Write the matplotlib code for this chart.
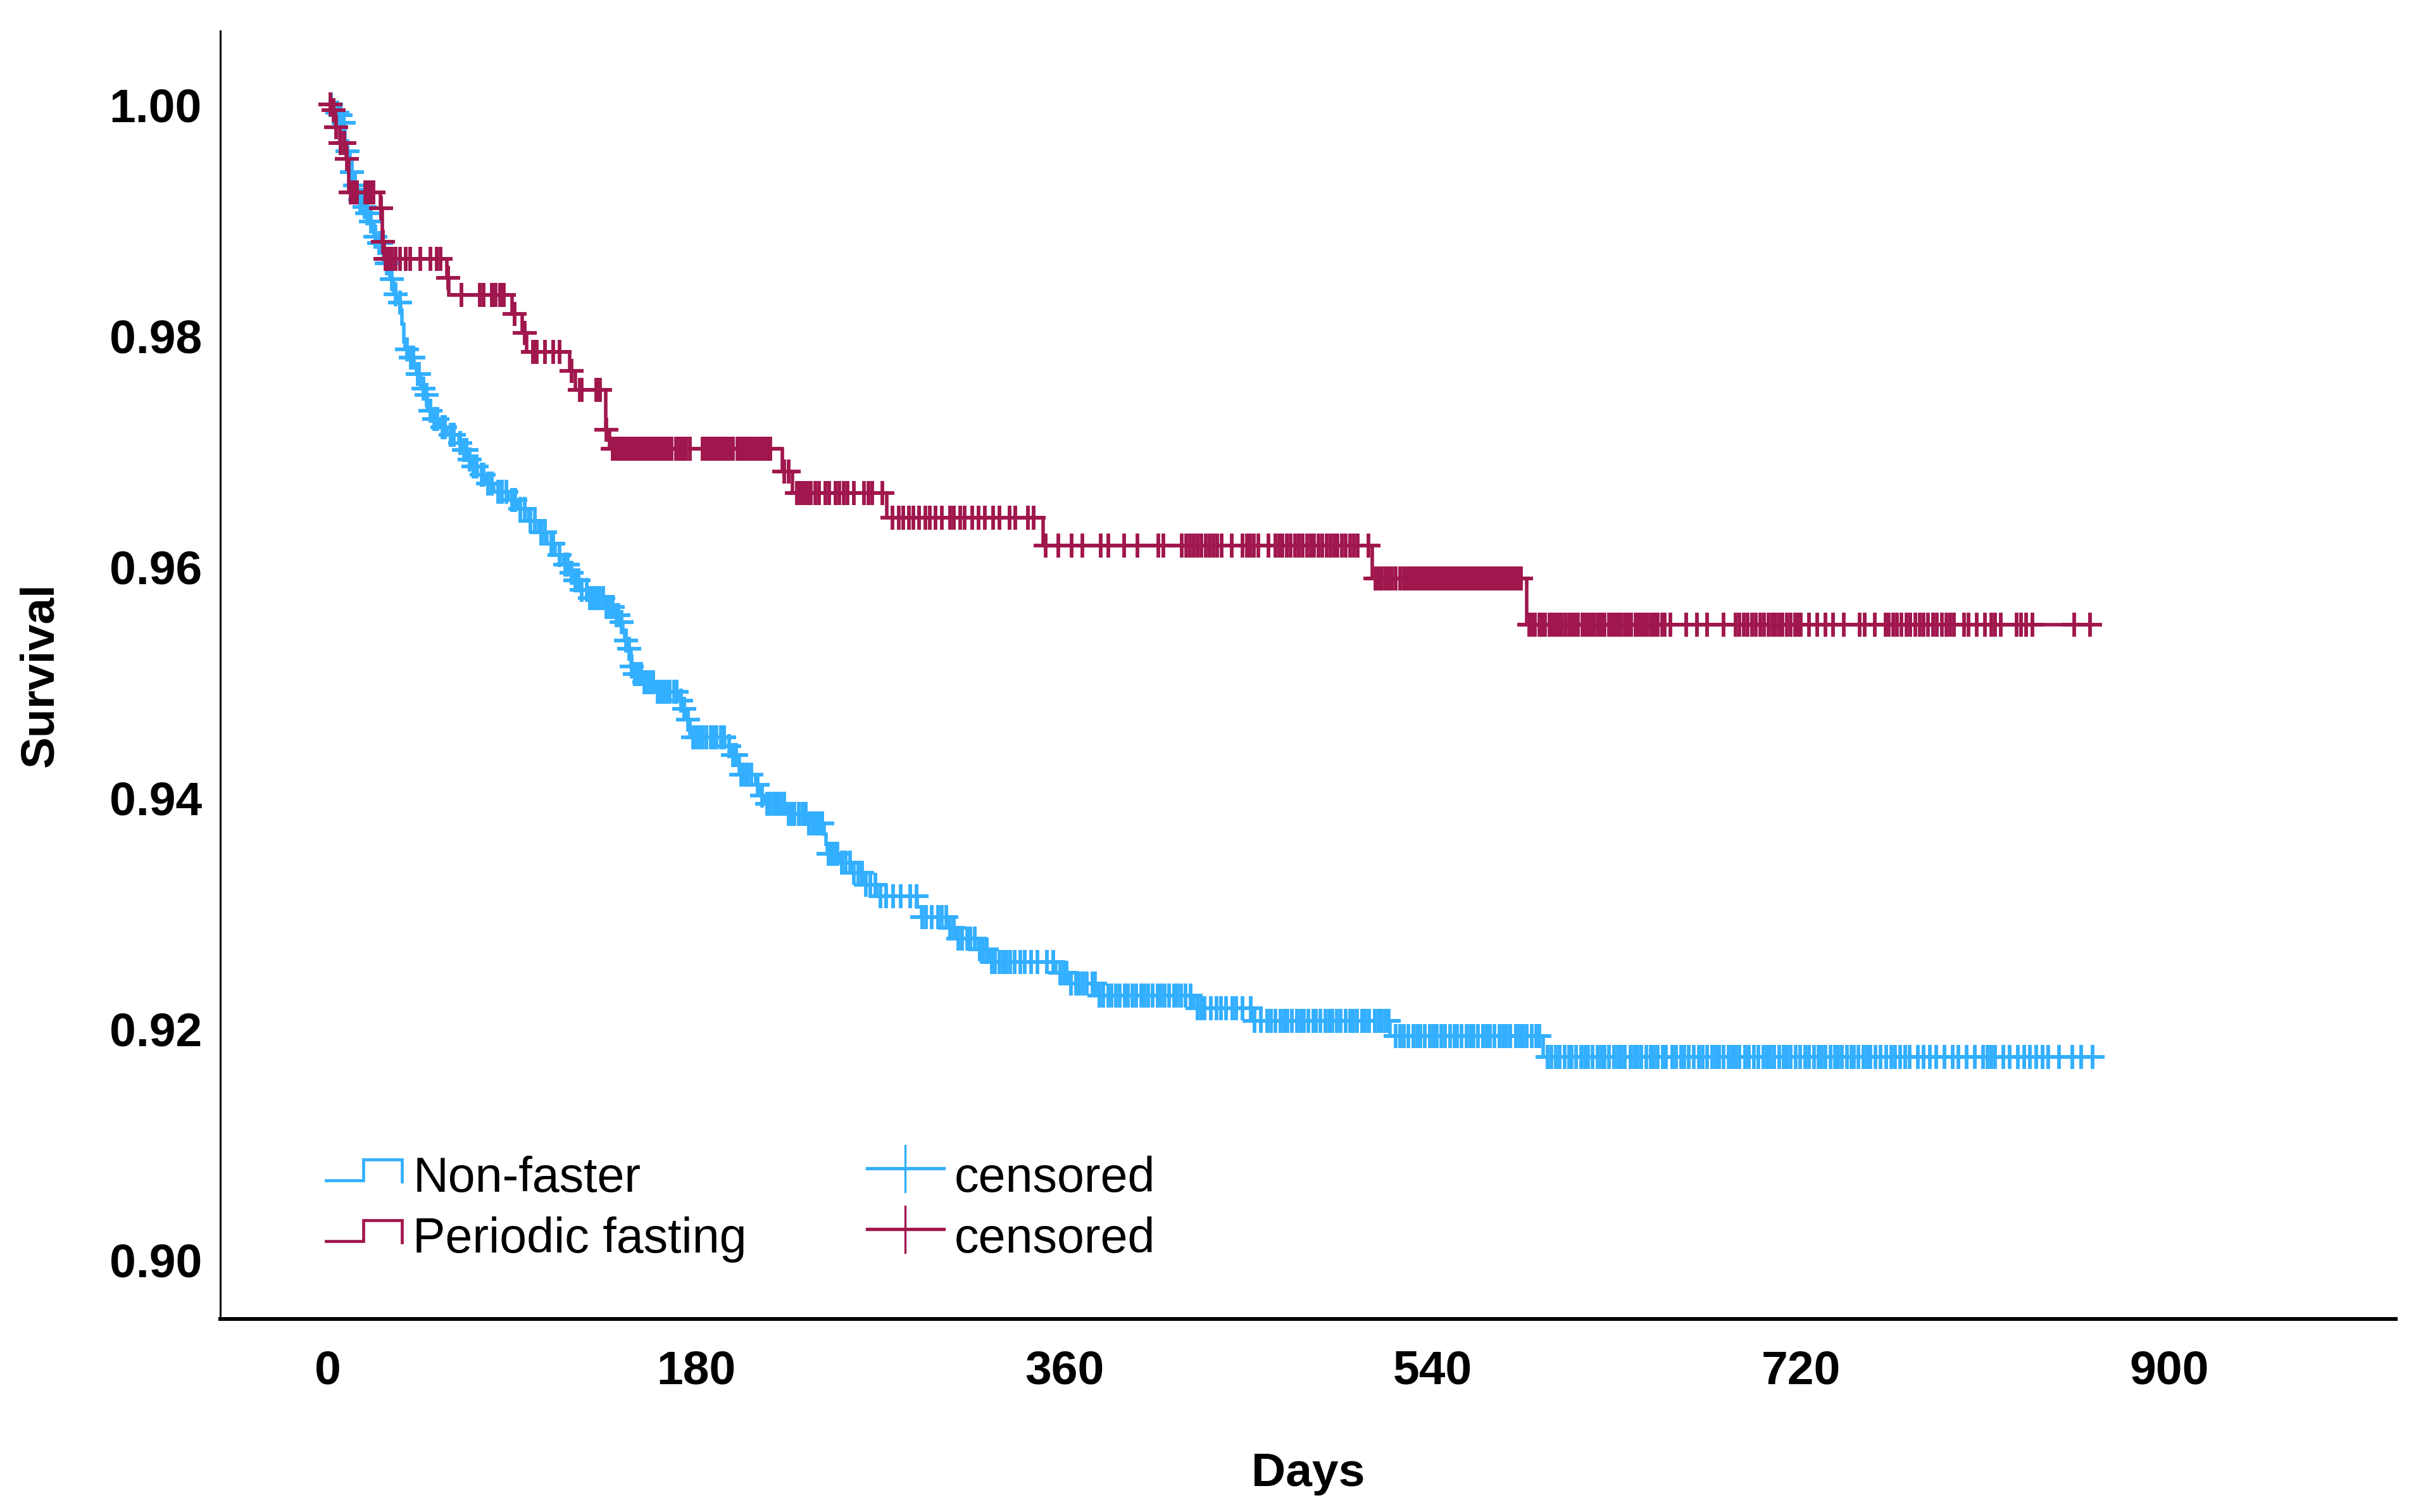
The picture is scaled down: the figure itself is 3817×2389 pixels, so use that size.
import numpy as np
import matplotlib
matplotlib.use("Agg")
import matplotlib.pyplot as plt
from matplotlib.lines import Line2D
from matplotlib.legend_handler import HandlerBase

plt.rcParams['font.family'] = ['Liberation Sans', 'DejaVu Sans']

# Kaplan-Meier curves: event day -> survival after the event
nonfaster_days = [0, 3.6, 5.7, 7, 8.2, 10.7, 12.4, 14.1, 17.2, 18.3, 20, 22.5, 23.7, 27.1,
                  30.2, 31.9, 34.2, 35.5, 36.2, 36.9, 37.5, 39.6, 42, 43.2, 45.5, 47.2,
                  48.5, 50.9, 54.3, 58, 64, 65.2, 68.6, 69.8, 73, 77, 81, 88, 93, 98, 103,
                  107, 111, 115, 118, 120.5, 123.6, 127.6, 135, 140, 143, 144, 145, 146.5,
                  148, 150, 153.6, 159.6, 172, 173.5, 175, 177, 194, 197, 201, 209, 211,
                  213, 224.6, 235, 242.5, 243.5, 244, 250, 256, 262, 268, 288, 290, 302.5,
                  307, 318, 323, 355.7, 361.6, 376, 423, 452, 519, 594]
nonfaster_surv = [1.0, 0.9993, 0.9991, 0.99846, 0.99595, 0.99417, 0.9930, 0.99176, 0.99113,
                  0.9906, 0.9899, 0.9886, 0.9880, 0.9863, 0.9849, 0.9836, 0.9829, 0.9822,
                  0.9810, 0.9795, 0.9788, 0.9781, 0.9775, 0.9767, 0.9754, 0.9749, 0.9735,
                  0.9728, 0.9721, 0.9714, 0.9707, 0.9701, 0.9693, 0.9687, 0.9680, 0.9672,
                  0.9665, 0.9658, 0.9650, 0.9640, 0.9630, 0.9620, 0.9610, 0.9602, 0.9595,
                  0.9588, 0.9580, 0.9573, 0.95655, 0.9558, 0.9552, 0.95435, 0.9536, 0.9529,
                  0.9514, 0.9507, 0.9500, 0.9492, 0.9484, 0.9477, 0.9468, 0.94525, 0.9445,
                  0.9437, 0.9420, 0.94114, 0.9402, 0.93947, 0.9386, 0.9378, 0.93686,
                  0.93601, 0.93517, 0.9344, 0.9335, 0.9325, 0.9315, 0.93058, 0.9297,
                  0.92876, 0.92783, 0.92687, 0.92582, 0.92488, 0.92394, 0.9229, 0.9218,
                  0.9207, 0.9194, 0.9176]

fasting_days = [0, 2, 3.6, 5.7, 8.8, 10, 25.4, 26.5, 27.5, 58, 59, 90, 95, 97, 118, 121,
                135.6, 137.7, 222, 227, 273, 349.5, 510.5, 586]
fasting_surv = [1.0, 0.99951, 0.99805, 0.99669, 0.99532, 0.99242, 0.99102, 0.98814, 0.98666,
                0.98504, 0.98354, 0.9819, 0.98022, 0.97861, 0.97696, 0.9753, 0.97184,
                0.97023, 0.96826, 0.96636, 0.96426, 0.96184, 0.9590, 0.95497]

# censored observations (days)
nonfaster_censored = [
    1.5, 4.5, 6.2, 7.5, 9.5, 11.5, 13.2, 15.5, 16.5, 17.8, 19.2, 21, 23, 25, 26, 28.5, 29.5,
    31, 33, 35, 38.5, 40.5, 41.5, 43.8, 44.5, 46.5, 48, 50, 52, 53.5, 56, 57, 60, 61.5, 64.5,
    66.5, 67.5, 69.2, 71, 72.5, 75, 76, 78, 80, 83, 85, 87, 90, 91.5, 94, 96, 99, 101, 104,
    106, 109, 110, 113, 116, 117, 119, 121, 122.5, 124, 126.5, 128, 129.5, 131, 132.5, 134.5,
    136, 137.5, 139, 141, 142, 143.5, 145.5, 147, 148.5, 150, 151.5, 153, 154.5, 156, 157.5,
    159, 161, 162.5, 164, 165.5, 167, 169, 170.5, 172.5, 174, 176, 178.5, 180, 181.5, 183,
    185, 187, 188.5, 190, 192, 193.5, 196, 198, 199.5, 202, 203.5, 205, 207, 210, 212, 214.5,
    216, 218, 219.5, 221, 223, 225, 226.5, 228, 230, 232, 233.5, 235, 237, 238.5, 240, 241.5,
    244.5, 246, 247.5, 249, 251, 253, 255, 257, 259, 261, 263, 265, 267.5, 270, 272.7, 276.3,
    279.8, 284.5, 287.5, 290.5, 292.2, 295.2, 298.2, 300, 302.3, 304, 306, 308, 310, 312.5,
    314, 316, 318.5, 320, 322, 324.5, 326, 328, 330, 331.5, 333.5, 335.5, 338.3, 340.5, 343.5,
    346.8, 351.5, 354.4, 358, 359.7, 361, 363, 365.5, 367, 369, 371, 373.5, 375, 377, 379,
    381.5, 383, 385, 387, 389.5, 391, 393, 395, 397.5, 399, 401, 403, 405.5, 407, 409, 411,
    413.5, 415, 417, 419, 421.5, 425, 427, 428.5, 431.5, 434.3, 436.6, 439, 442, 444, 447,
    451, 453, 456, 459, 461, 463, 465.5, 467.5, 469, 471, 473.5, 475.5, 477, 479, 481.5, 483,
    485, 487.5, 489.5, 491, 493, 495, 497.5, 499.5, 501, 503, 505.5, 507, 509, 511.5, 513.5,
    515, 517, 518.5, 522, 524, 526, 528, 530.5, 532.5, 534, 536, 538.5, 540.5, 542, 544, 546,
    548.5, 550.5, 552, 554, 556.5, 558.5, 560, 562, 564.5, 566.5, 568, 570, 572.5, 574.5, 576,
    578, 580.5, 582.5, 584, 586, 588.5, 590.5, 592, 596, 598, 600, 602, 604.5, 606.5, 608, 610,
    612.5, 614.5, 616, 618, 620.5, 622.5, 624, 626, 628.5, 630.5, 632, 634, 636.5, 638.5, 640,
    642, 644.5, 646.5, 648, 650, 652.5, 654, 657, 659, 661.5, 663, 665, 667.5, 670, 672, 674,
    676.5, 678.5, 680, 682, 684.5, 686.5, 688, 690, 692.5, 694.5, 697, 699, 701.5, 703.5, 705,
    707, 709.5, 711.5, 713, 715, 717.5, 719.5, 722, 724, 726.5, 728.5, 730, 732, 734.5, 736.5,
    738, 740, 742.5, 744.5, 746, 748, 750.5, 752.5, 754, 756.5, 759, 761.5, 764, 766, 768.5,
    771, 773, 777, 780, 783, 786, 790, 794, 797, 801, 805, 809, 811, 813, 815, 819, 822, 826,
    829, 832, 835, 838, 841, 846, 852.5, 857, 862.5]
fasting_censored = [
    1, 2.5, 4, 6, 8, 9, 11, 12, 13, 14, 18, 19, 20, 21, 22, 25.8, 26.8, 28, 29, 30, 31, 33,
    35, 38, 40, 45, 50, 53, 55, 58.5, 65, 74, 76, 80, 81, 82, 84, 85, 86, 91, 96, 100, 101,
    102, 106, 110, 113, 119, 123, 124, 131, 132, 133, 136, 139, 140, 141, 142.5, 143.5, 145,
    146.5, 147.5, 149, 150.5, 151.5, 153, 154.5, 156, 157, 158.5, 160, 161.5, 162.5, 164, 165.5,
    167, 168, 170, 171, 172.5, 174, 175, 177, 183, 184.5, 186, 187, 188.5, 190, 191.5, 192.5,
    194, 195.5, 197, 198, 200, 201, 202.5, 204, 205.5, 206.5, 208, 209.5, 211, 212, 213.5,
    215, 216, 223, 225, 229, 230.5, 232, 233, 234.5, 236, 238, 240, 243, 245, 248, 250, 252,
    254, 257, 262, 264, 266, 271, 276, 279, 281, 284, 286, 289, 292, 294, 297, 300, 304, 306,
    309, 311, 315, 318, 321, 325, 328, 333, 336, 342, 345, 350.8, 357, 363.5, 368.6, 377.6,
    381.4, 389, 395.6, 405.8, 408.4, 417.4, 419.5, 421.3, 423, 425, 427, 429, 431, 432.7, 434.5,
    436.7, 441.8, 447, 449, 450.8, 452.5, 454.7, 459.7, 463, 464.9, 466.5, 468.6, 470.5, 472.6,
    474.5, 476.4, 478.5, 480.4, 482, 484.1, 486, 488, 490, 491.8, 493.5, 495.6, 497.5, 499.5,
    501.5, 503.3, 508.5, 512, 513.5, 515, 517, 518.5, 520, 522, 524, 526, 527.5, 529, 530.5,
    532, 533.5, 535, 536.5, 538, 539.5, 541, 542.5, 544, 545.5, 547, 548.5, 550, 551.5, 553,
    554.5, 556, 557.5, 559, 560.5, 562, 563.5, 565, 566.5, 568, 569.5, 571, 572.5, 574, 575.5,
    577, 578.5, 580, 581.5, 583, 587, 588.5, 590, 592, 593.5, 595, 597, 598.5, 600, 601.5, 603,
    604.8, 606.5, 608, 609.5, 611, 613, 614.5, 616, 617.6, 619, 621, 622.5, 624, 626, 627.5,
    629, 630.5, 632, 634, 635.5, 637, 639, 640.5, 642, 643.3, 645, 647, 648.5, 650, 652, 653.5,
    656, 664, 669, 674, 682, 688, 690, 692, 694, 696, 698, 700, 702, 704, 706, 707.5, 709.5,
    711, 713, 715, 717, 718.5, 720, 724, 728, 732, 735.6, 741, 748.5, 751, 756, 761.3, 763,
    765, 767, 769, 771.5, 773.5, 776, 778, 780, 782, 784.4, 786.5, 789, 791, 793, 794.7, 799.7,
    802, 806, 810, 813, 815, 817.7, 825.3, 827.5, 830, 833, 853.5, 861.3]

blue = '#33AFFF'
crimson = '#A0174D'


def draw_km(ax, days, surv, cens, color):
    days = np.array(days)
    surv = np.array(surv)
    cens = np.array(cens)
    last = cens.max()
    ax.step(np.append(days, last), np.append(surv, surv[-1]), where='post',
            color=color, lw=4.0, solid_joinstyle='miter')
    idx = np.searchsorted(days, cens, side='right') - 1
    ax.plot(cens, surv[idx], linestyle='none', marker='+', markersize=27,
            markeredgewidth=4.2, color=color)


class StepHandler(HandlerBase):
    def create_artists(self, legend, orig_handle, xdescent, ydescent,
                       width, height, fontsize, trans):
        x0, y0 = -xdescent, -ydescent
        xs = [x0, x0 + 0.49 * width, x0 + 0.49 * width, x0 + width, x0 + width]
        ys = [y0 + 0.33 * height, y0 + 0.33 * height, y0 + 0.94 * height,
              y0 + 0.94 * height, y0 + 0.30 * height]
        line = Line2D(xs, ys, color=orig_handle.get_color(), lw=3.4,
                      solid_joinstyle='miter', transform=trans)
        return [line]


class CensorHandler(HandlerBase):
    def create_artists(self, legend, orig_handle, xdescent, ydescent,
                       width, height, fontsize, trans):
        x0, y0 = -xdescent, -ydescent
        c = orig_handle.get_color()
        h = Line2D([x0, x0 + width], [y0 + 0.68 * height] * 2, color=c, lw=3.8,
                   transform=trans)
        v = Line2D([x0 + width / 2] * 2, [y0, y0 + 1.35 * height], color=c, lw=2.4,
                   transform=trans)
        return [h, v]


fig = plt.figure(figsize=(38.17, 23.89), dpi=100)
ax = fig.add_axes([0.0912, 0.1277, 0.9004, 0.8518])

draw_km(ax, nonfaster_days, nonfaster_surv, nonfaster_censored, blue)
draw_km(ax, fasting_days, fasting_surv, fasting_censored, crimson)

ax.set_xlim(-52.7, 1010.7)
ax.set_ylim(0.8949, 1.00638)
ax.set_xticks([0, 180, 360, 540, 720, 900])
ax.set_yticks([0.90, 0.92, 0.94, 0.96, 0.98, 1.00])
ax.set_yticklabels(['0.90', '0.92', '0.94', '0.96', '0.98', '1.00'])
ax.tick_params(axis='both', length=0, labelsize=54)
ax.tick_params(axis='y', pad=21)
ax.tick_params(axis='x', pad=35)
for lab in ax.get_xticklabels() + ax.get_yticklabels():
    lab.set_fontweight('bold')

for s in ['top', 'right']:
    ax.spines[s].set_visible(False)
ax.spines['left'].set_linewidth(2.2)
ax.spines['bottom'].set_linewidth(4.3)

ax.set_xlabel('Days', fontsize=54, fontweight='bold')
ax.set_ylabel('Survival', fontsize=54, fontweight='bold')
ax.xaxis.set_label_coords(0.5, -0.103)
ax.yaxis.set_label_coords(-0.0727, 0.5)

h1 = Line2D([], [], color=blue)
h2 = Line2D([], [], color=crimson)
h3 = Line2D([], [], color=blue)
h4 = Line2D([], [], color=crimson)
ax.legend([h1, h2, h3, h4], ['Non-faster', 'Periodic fasting', 'censored', 'censored'],
          handler_map={h1: StepHandler(), h2: StepHandler(),
                       h3: CensorHandler(), h4: CensorHandler()},
          ncol=2, frameon=False, fontsize=55.5, loc='lower left',
          bbox_to_anchor=(0.0486, 0.0437), borderpad=0, borderaxespad=0,
          handlelength=1.56, handletextpad=0.22, columnspacing=2.47,
          labelspacing=0.30)

fig.savefig('out.png', dpi=100)
